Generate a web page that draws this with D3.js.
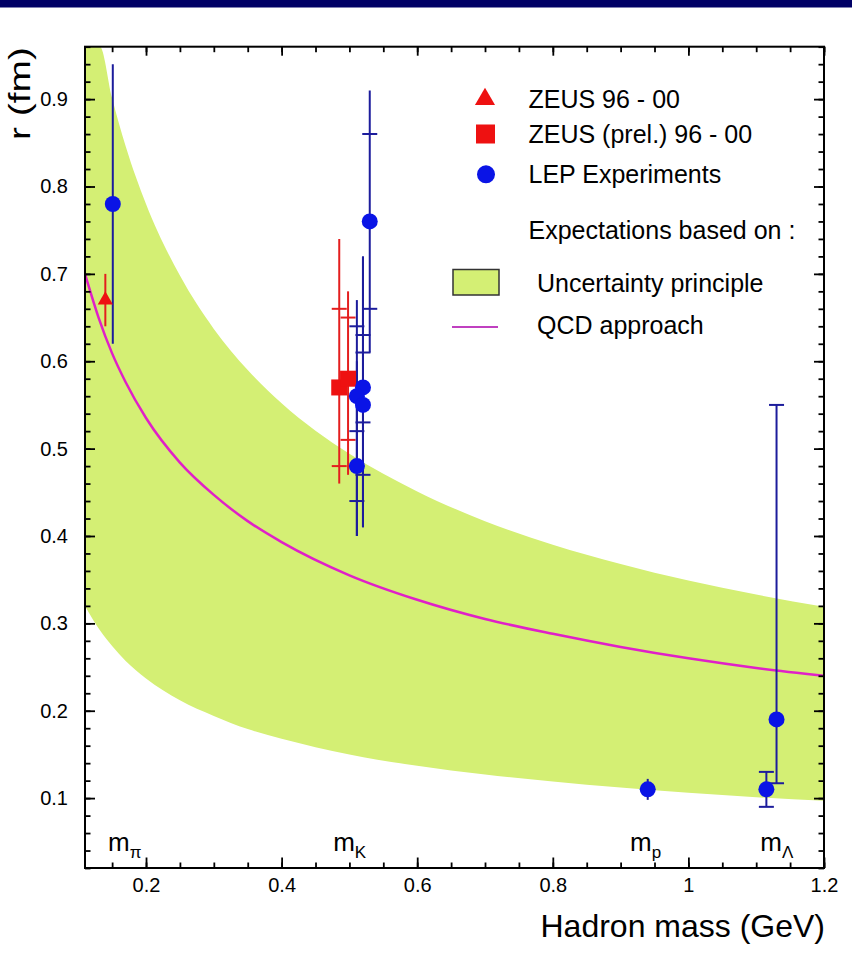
<!DOCTYPE html>
<html>
<head>
<meta charset="utf-8">
<script src="https://cdn.jsdelivr.net/npm/d3@7"></script>
<style>
  body { margin: 0; background: #fff; }
  svg { display: block; font-family: "Liberation Sans", Arial, Helvetica, sans-serif; }
</style>
</head>
<body>
<svg id="chart" width="852" height="968"></svg>
<script>
// ---- Expectation band (uncertainty principle), sampled in hadron mass (GeV) ----
const bandMass  = [0.11, 0.132, 0.15, 0.17, 0.2, 0.25, 0.3, 0.35, 0.4, 0.5, 0.6, 0.7, 0.8, 0.9, 1.0, 1.1, 1.2];
const bandUpper = [0.96, 0.96, 0.901, 0.846, 0.780, 0.698, 0.637, 0.590, 0.552, 0.494, 0.451, 0.417, 0.390, 0.368, 0.349, 0.333, 0.319];
const bandLower = [0.320, 0.292, 0.274, 0.257, 0.237, 0.212, 0.194, 0.179, 0.168, 0.150, 0.137, 0.127, 0.119, 0.112, 0.106, 0.101, 0.097];

// ---- QCD approach curve ----
const qcdMass = [0.11, 0.13, 0.15, 0.17, 0.2, 0.25, 0.3, 0.35, 0.4, 0.5, 0.6, 0.7, 0.8, 0.9, 1.0, 1.1, 1.2];
const qcdR    = [0.700, 0.650, 0.609, 0.576, 0.535, 0.484, 0.447, 0.417, 0.393, 0.355, 0.327, 0.305, 0.288, 0.273, 0.260, 0.249, 0.240];

// ---- ZEUS 96-00 (triangle) ----
const zeusMass = [0.14];
const zeusR    = [0.67];
const zeusLo   = [0.64];
const zeusHi   = [0.70];

// ---- ZEUS (prel.) 96-00 (squares) ----
const zeusPrelMass   = [0.485, 0.498];
const zeusPrelR      = [0.57, 0.58];
const zeusPrelLo     = [0.46, 0.47];
const zeusPrelHi     = [0.74, 0.68];
const zeusPrelStatLo = [0.48, 0.51];
const zeusPrelStatHi = [0.66, 0.65];

// ---- LEP experiments (circles) ----
const lepMass   = [0.151, 0.530, 0.520, 0.511, 0.520, 0.511, 0.940, 1.130, 1.115];
const lepR      = [0.78, 0.76, 0.57, 0.56, 0.55, 0.48, 0.11, 0.19, 0.11];
const lepLo     = [0.62, 0.61, 0.41, 0.40, 0.41, 0.40, 0.098, 0.117, 0.09];
const lepHi     = [0.94, 0.91, 0.72, 0.67, 0.72, 0.60, 0.122, 0.55, 0.13];
const lepStatLo = [null, 0.66, 0.53, 0.48, 0.47, 0.44, null, 0.117, 0.09];
const lepStatHi = [null, 0.86, 0.63, 0.64, 0.61, 0.52, null, 0.55, 0.13];

// ---- Axis ticks and labels ----
const xTicks      = [0.2, 0.4, 0.6, 0.8, 1.0, 1.2];
const xTickLabels = ["0.2", "0.4", "0.6", "0.8", "1", "1.2"];
const yTicks      = [0.1, 0.2, 0.3, 0.4, 0.5, 0.6, 0.7, 0.8, 0.9];
const yTickLabels = ["0.1", "0.2", "0.3", "0.4", "0.5", "0.6", "0.7", "0.8", "0.9"];

// ---- Hadron mass markers along the bottom (label start, in GeV) ----
const hadronLabelX   = [0.144, 0.476, 0.914, 1.106];
const hadronLabelSub = ["\u03C0", "K", "p", "\u039B"];

// ---- Legend entries ----
const legendMarkers = ["ZEUS 96 - 00", "ZEUS (prel.) 96 - 00", "LEP Experiments"];
const legendHeading = "Expectations based on :";
const legendBands   = ["Uncertainty principle", "QCD approach"];

// ================= drawing =================
const svg = d3.select("#chart");
const W = 852, H = 968;
const frame = { left: 85, right: 824, top: 46.7, bottom: 868 };

const RED = "#ee1111", RED_BAR = "#e41e1e";
const BLUE = "#0a14e6", BLUE_BAR = "#1c1c9c";
const BAND = "#d4ef74", QCD = "#e020c8";

svg.append("rect").attr("x", 0).attr("y", 0).attr("width", W).attr("height", H).attr("fill", "#fff");
svg.append("rect").attr("x", 0).attr("y", 0).attr("width", W).attr("height", 7.5).attr("fill", "#000066");

const x = d3.scaleLinear().domain([0.11, 1.2]).range([frame.left, frame.right]);
const y = d3.scaleLinear().domain([0.02, 0.96]).range([frame.bottom, frame.top]);

svg.append("clipPath").attr("id", "plotClip")
  .append("rect")
  .attr("x", frame.left).attr("y", frame.top)
  .attr("width", frame.right - frame.left).attr("height", frame.bottom - frame.top);

const plot = svg.append("g").attr("clip-path", "url(#plotClip)");

// band
const bandData = bandMass.map((m, i) => ({ m, lo: bandLower[i], hi: bandUpper[i] }));
plot.append("path")
  .datum(bandData)
  .attr("fill", BAND)
  .attr("d", d3.area().x(d => x(d.m)).y0(d => y(d.lo)).y1(d => y(d.hi)).curve(d3.curveMonotoneX));

// QCD curve
const qcdData = qcdMass.map((m, i) => ({ m, r: qcdR[i] }));
plot.append("path")
  .datum(qcdData)
  .attr("fill", "none")
  .attr("stroke", QCD)
  .attr("stroke-width", 2.5)
  .attr("d", d3.line().x(d => x(d.m)).y(d => y(d.r)).curve(d3.curveMonotoneX));

// error bars: full line for the total error, short caps at the statistical ends
function errorBars(g, mass, lo, hi, sLo, sHi, color) {
  mass.forEach((m, i) => {
    g.append("line")
      .attr("x1", x(m)).attr("x2", x(m))
      .attr("y1", y(lo[i])).attr("y2", y(hi[i]))
      .attr("stroke", color).attr("stroke-width", 2);
    [sLo ? sLo[i] : null, sHi ? sHi[i] : null].forEach(v => {
      if (v == null) return;
      g.append("line")
        .attr("x1", x(m) - 7.5).attr("x2", x(m) + 7.5)
        .attr("y1", y(v)).attr("y2", y(v))
        .attr("stroke", color).attr("stroke-width", 2);
    });
  });
}

const bars = plot.append("g");
errorBars(bars, zeusMass, zeusLo, zeusHi, null, null, RED_BAR);
errorBars(bars, zeusPrelMass, zeusPrelLo, zeusPrelHi, zeusPrelStatLo, zeusPrelStatHi, RED_BAR);
errorBars(bars, lepMass, lepLo, lepHi, lepStatLo, lepStatHi, BLUE_BAR);

// markers
const marks = plot.append("g");
marks.selectAll(".tri").data(zeusMass).join("path")
  .attr("transform", (d, i) => `translate(${x(d)},${y(zeusR[i])})`)
  .attr("d", d3.symbol().type(d3.symbolTriangle).size(100))
  .attr("fill", RED);
marks.selectAll(".sq").data(zeusPrelMass).join("rect")
  .attr("x", d => x(d) - 8).attr("y", (d, i) => y(zeusPrelR[i]) - 8)
  .attr("width", 16).attr("height", 16)
  .attr("fill", RED);
marks.selectAll(".dot").data(lepMass).join("circle")
  .attr("cx", d => x(d)).attr("cy", (d, i) => y(lepR[i]))
  .attr("r", 8)
  .attr("fill", BLUE);

// axes: ticks point inwards on all four sides
const fontTick = 20;
const xMinor = d3.range(0.15, 1.2001, 0.05);
const yMinor = d3.range(0.02, 0.9601, 0.02);

function styleAxis(g) {
  g.select(".domain").remove();
  g.selectAll(".tick line").attr("stroke", "#000").attr("stroke-width", 1.8);
  g.selectAll(".tick text").attr("font-size", fontTick).attr("fill", "#000")
    .attr("font-family", "'Liberation Sans', Arial, Helvetica, sans-serif");
}

svg.append("g").attr("transform", `translate(0,${frame.bottom})`)
  .call(d3.axisBottom(x).tickValues(xMinor).tickSize(-5.5).tickFormat(""))
  .call(styleAxis);
svg.append("g").attr("transform", `translate(0,${frame.bottom})`)
  .call(d3.axisBottom(x).tickValues(xTicks).tickSize(-10.5).tickPadding(10)
    .tickFormat((d, i) => xTickLabels[i]))
  .call(styleAxis);
svg.append("g").attr("transform", `translate(0,${frame.top})`)
  .call(d3.axisTop(x).tickValues(xMinor).tickSize(-5.5).tickFormat(""))
  .call(styleAxis);
svg.append("g").attr("transform", `translate(0,${frame.top})`)
  .call(d3.axisTop(x).tickValues(xTicks).tickSize(-9).tickFormat(""))
  .call(styleAxis);

svg.append("g").attr("transform", `translate(${frame.left},0)`)
  .call(d3.axisLeft(y).tickValues(yMinor).tickSize(-5.5).tickFormat(""))
  .call(styleAxis);
svg.append("g").attr("transform", `translate(${frame.left},0)`)
  .call(d3.axisLeft(y).tickValues(yTicks).tickSize(-10).tickPadding(17)
    .tickFormat((d, i) => yTickLabels[i]))
  .call(styleAxis);
svg.append("g").attr("transform", `translate(${frame.right},0)`)
  .call(d3.axisRight(y).tickValues(yMinor).tickSize(-5.5).tickFormat(""))
  .call(styleAxis);
svg.append("g").attr("transform", `translate(${frame.right},0)`)
  .call(d3.axisRight(y).tickValues(yTicks).tickSize(-10).tickFormat(""))
  .call(styleAxis);

// frame
svg.append("rect")
  .attr("x", frame.left).attr("y", frame.top)
  .attr("width", frame.right - frame.left).attr("height", frame.bottom - frame.top)
  .attr("fill", "none").attr("stroke", "#000").attr("stroke-width", 2);

// axis titles
svg.append("text")
  .attr("x", 825).attr("y", 937)
  .attr("text-anchor", "end")
  .attr("font-size", 32)
  .text("Hadron mass (GeV)");
svg.append("text")
  .attr("transform", "translate(30,140) rotate(-90)")
  .attr("text-anchor", "start")
  .attr("font-size", 30)
  .attr("textLength", 93)
  .attr("lengthAdjust", "spacingAndGlyphs")
  .text("r (fm)");

// hadron mass markers
const hl = svg.append("g");
hadronLabelX.forEach((m, i) => {
  const t = hl.append("text")
    .attr("x", x(m)).attr("y", 851)
    .attr("font-size", 26);
  t.append("tspan").text("m");
  t.append("tspan").attr("font-size", 17).attr("dy", 7).text(hadronLabelSub[i]);
});

// legend
const lg = svg.append("g").attr("font-size", 25).attr("fill", "#000");
const markerRows = [99.3, 134, 174.3];
lg.append("path")
  .attr("transform", `translate(485,${markerRows[0]})`)
  .attr("d", d3.symbol().type(d3.symbolTriangle).size(175))
  .attr("fill", RED);
lg.append("rect").attr("x", 476).attr("y", markerRows[1] - 9.5).attr("width", 19).attr("height", 19).attr("fill", RED);
lg.append("circle").attr("cx", 486).attr("cy", markerRows[2]).attr("r", 9).attr("fill", BLUE);
legendMarkers.forEach((s, i) => {
  lg.append("text").attr("x", 528.5).attr("y", markerRows[i] + 8.5).text(s);
});
lg.append("text").attr("x", 528.5).attr("y", 238.5).text(legendHeading);
lg.append("rect").attr("x", 453).attr("y", 269.5).attr("width", 46).attr("height", 25.5)
  .attr("fill", BAND).attr("stroke", "#333").attr("stroke-width", 1.5);
lg.append("text").attr("x", 537).attr("y", 291.5).text(legendBands[0]);
lg.append("line").attr("x1", 452).attr("x2", 498).attr("y1", 327).attr("y2", 327)
  .attr("stroke", "#c040c0").attr("stroke-width", 2.2);
lg.append("text").attr("x", 537).attr("y", 334).text(legendBands[1]);
</script>
</body>
</html>
